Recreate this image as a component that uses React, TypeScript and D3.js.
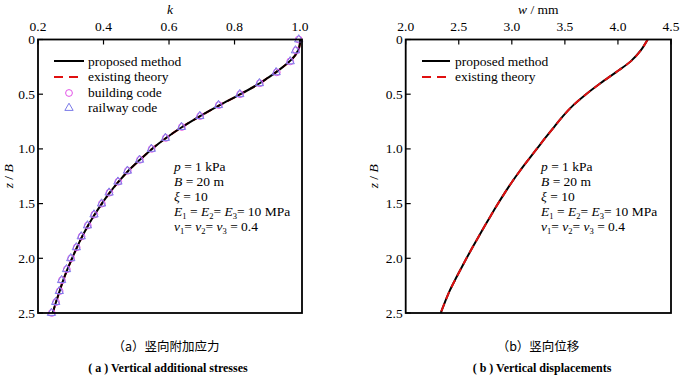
import React from 'react';
import * as d3 from 'd3';

// ---- data ----
const kTicks = [0.2, 0.4, 0.6, 0.8, 1.0];
const wTicks = [2.0, 2.5, 3.0, 3.5, 4.0, 4.5];
const zTicks = [0, 0.5, 1.0, 1.5, 2.0, 2.5];

const zLine = [0, 0.05, 0.1, 0.15, 0.2, 0.25, 0.3, 0.35, 0.4, 0.5, 0.6, 0.7, 0.8, 0.9, 1.0, 1.1, 1.2, 1.3, 1.4, 1.5, 1.6, 1.7, 1.8, 1.9, 2.0, 2.1, 2.2, 2.3, 2.4, 2.5];
const kProposed = [1.0, 0.999, 0.994, 0.984, 0.968, 0.948, 0.926, 0.902, 0.877, 0.818, 0.755, 0.695, 0.640, 0.591, 0.548, 0.511, 0.476, 0.446, 0.419, 0.395, 0.373, 0.353, 0.335, 0.319, 0.304, 0.290, 0.277, 0.266, 0.255, 0.245];
const kExisting = [1.0, 0.999, 0.994, 0.984, 0.968, 0.948, 0.926, 0.902, 0.877, 0.818, 0.755, 0.695, 0.640, 0.591, 0.548, 0.511, 0.476, 0.446, 0.419, 0.395, 0.373, 0.353, 0.335, 0.319, 0.304, 0.290, 0.277, 0.266, 0.255, 0.245];

const zMarkers = [0, 0.1, 0.2, 0.3, 0.4, 0.5, 0.6, 0.7, 0.8, 0.9, 1.0, 1.1, 1.2, 1.3, 1.4, 1.5, 1.6, 1.7, 1.8, 1.9, 2.0, 2.1, 2.2, 2.3, 2.4, 2.5];
const kBuilding = [0.996, 0.988, 0.970, 0.929, 0.877, 0.817, 0.752, 0.695, 0.639, 0.590, 0.547, 0.511, 0.474, 0.445, 0.418, 0.395, 0.372, 0.352, 0.333, 0.318, 0.301, 0.288, 0.273, 0.266, 0.255, 0.242];
const kRailway = [0.996, 0.986, 0.970, 0.927, 0.876, 0.816, 0.751, 0.694, 0.638, 0.589, 0.546, 0.510, 0.473, 0.444, 0.417, 0.394, 0.371, 0.351, 0.332, 0.317, 0.300, 0.287, 0.272, 0.265, 0.254, 0.241];

const zW = [0, 0.1, 0.2, 0.3, 0.4, 0.5, 0.6, 0.7, 0.8, 0.9, 1.0, 1.1, 1.2, 1.3, 1.4, 1.5, 1.6, 1.7, 1.8, 1.9, 2.0, 2.1, 2.2, 2.3, 2.4, 2.5];
const wProposed = [4.28, 4.215, 4.12, 3.98, 3.835, 3.70, 3.58, 3.482, 3.398, 3.315, 3.235, 3.155, 3.077, 3.003, 2.935, 2.87, 2.808, 2.747, 2.688, 2.63, 2.573, 2.518, 2.464, 2.413, 2.37, 2.33];
const wExisting = [4.28, 4.215, 4.12, 3.98, 3.835, 3.70, 3.58, 3.482, 3.398, 3.315, 3.235, 3.155, 3.077, 3.003, 2.935, 2.87, 2.808, 2.747, 2.688, 2.63, 2.573, 2.518, 2.464, 2.413, 2.37, 2.33];

const legendA = ['proposed method', 'existing theory', 'building code', 'railway code'];
const legendB = ['proposed method', 'existing theory'];

const SERIF = "'Liberation Serif', 'Times New Roman', serif";
const CJK = "'Noto Sans CJK SC', sans-serif";

const Params = ({ x, y }: { x: number; y: number }) => {
  const fs = 13.5;
  const sub = { fontSize: 8.5 } as const;
  return (
    <g style={{ fontFamily: SERIF }} fontSize={fs} fill="#000">
      <text x={x} y={y}><tspan fontStyle="italic">p</tspan> = 1 kPa</text>
      <text x={x} y={y + 15}><tspan fontStyle="italic">B</tspan> = 20 m</text>
      <text x={x} y={y + 30}><tspan fontStyle="italic">ξ</tspan> = 10</text>
      <text x={x} y={y + 45}>
        <tspan fontStyle="italic">E</tspan><tspan dy={2.5} style={sub}>1</tspan><tspan dy={-2.5}> = </tspan>
        <tspan fontStyle="italic">E</tspan><tspan dy={2.5} style={sub}>2</tspan><tspan dy={-2.5}>= </tspan>
        <tspan fontStyle="italic">E</tspan><tspan dy={2.5} style={sub}>3</tspan><tspan dy={-2.5}>= 10 MPa</tspan>
      </text>
      <text x={x} y={y + 60}>
        <tspan fontStyle="italic">ν</tspan><tspan dy={2.5} style={sub}>1</tspan><tspan dy={-2.5}>= </tspan>
        <tspan fontStyle="italic">ν</tspan><tspan dy={2.5} style={sub}>2</tspan><tspan dy={-2.5}>= </tspan>
        <tspan fontStyle="italic">ν</tspan><tspan dy={2.5} style={sub}>3</tspan><tspan dy={-2.5}> = 0.4</tspan>
      </text>
    </g>
  );
};

const Panel = ({
  x0, x1, xDomain, xTicks, xTitle, yLabelOffset, children,
}: {
  x0: number; x1: number; xDomain: [number, number]; xTicks: number[]; xTitle: React.ReactNode; yLabelOffset: number; children: (x: d3.ScaleLinear<number, number>, y: d3.ScaleLinear<number, number>) => React.ReactNode;
}) => {
  const y0 = 39.5, y1 = 313;
  const x = d3.scaleLinear().domain(xDomain).range([x0, x1]);
  const y = d3.scaleLinear().domain([0, 2.5]).range([y0, y1]);
  const left = x0;
  const right = x.range()[1];
  return (
    <g style={{ fontFamily: SERIF }}>
      {children(x, y)}
      {xTicks.map((t) => (
        <g key={'xt' + t}>
          <line x1={x(t)} x2={x(t)} y1={y0} y2={y0 + 5} stroke="#000" strokeWidth={1.2} />
          <text x={x(t)} y={31} textAnchor="middle" fontSize={13.5}>{t.toFixed(1)}</text>
        </g>
      ))}
      {zTicks.map((t) => (
        <g key={'yt' + t}>
          <line x1={left} x2={left + 5} y1={y(t)} y2={y(t)} stroke="#000" strokeWidth={1.2} />
          <text x={left - 3} y={y(t) + 4.5} textAnchor="end" fontSize={13.5}>{t === 0 ? '0' : t.toFixed(1)}</text>
        </g>
      ))}
      <rect x={left} y={y0} width={right - left} height={y1 - y0} fill="none" stroke="#000" strokeWidth={1.8} />
      <text x={(left + right) / 2} y={14} textAnchor="middle" fontSize={13.5}>{xTitle}</text>
      <text transform={`translate(${left - yLabelOffset},${(y0 + y1) / 2}) rotate(-90)`} textAnchor="middle" fontSize={13.5}>
        <tspan fontStyle="italic">z</tspan> / <tspan fontStyle="italic">B</tspan>
      </text>
    </g>
  );
};

export default function App() {
  const lineGen = (xs: number[], zs: number[], x: d3.ScaleLinear<number, number>, y: d3.ScaleLinear<number, number>) =>
    d3.line<number>().x((d) => x(d)).y((_, i) => y(zs[i])).curve(d3.curveCatmullRom)(xs) || '';
  const tri = d3.symbol().type(d3.symbolTriangle).size(30)() || '';

  return (
    <svg width={683} height={378} style={{ position: 'absolute', left: 0, top: 0, background: '#fff' }}>
      <rect width={683} height={378} fill="#fff" />
      <Panel x0={38} x1={302} xDomain={[0.2, 1.006]} xTicks={kTicks} xTitle={<tspan fontStyle="italic">k</tspan>} yLabelOffset={25}>
        {(x, y) => (
          <g>
            <path d={lineGen(kExisting, zLine, x, y)} fill="none" stroke="#e01010" strokeWidth={2} strokeDasharray="8,5" />
            <path d={lineGen(kProposed, zLine, x, y)} fill="none" stroke="#000" strokeWidth={2} />
            {zMarkers.map((z, i) => (
              <circle key={'c' + i} cx={x(kBuilding[i])} cy={y(z)} r={3.4} fill="none" stroke="#e454e8" strokeWidth={1} />
            ))}
            {zMarkers.map((z, i) => (
              <path key={'t' + i} d={tri} transform={`translate(${x(kRailway[i])},${y(z)})`} fill="none" stroke="#7a7ae8" strokeWidth={1} />
            ))}
            <g fontSize={13.5}>
              <line x1={54} x2={84} y1={61} y2={61} stroke="#000" strokeWidth={2} />
              <line x1={54} x2={84} y1={77} y2={77} stroke="#e01010" strokeWidth={2} strokeDasharray="9,6" />
              <circle cx={69} cy={93} r={3.4} fill="none" stroke="#e454e8" strokeWidth={1} />
              <path d={tri} transform="translate(69,108)" fill="none" stroke="#7a7ae8" strokeWidth={1} />
              {legendA.map((s, i) => (
                <text key={s} x={88} y={65.5 + i * 15.5}>{s}</text>
              ))}
            </g>
            <Params x={174} y={171} />
          </g>
        )}
      </Panel>
      <Panel x0={405.7} x1={671} xDomain={[2.0, 4.5]} xTicks={wTicks} xTitle={<><tspan fontStyle="italic">w</tspan> / mm</>} yLabelOffset={28}>
        {(x, y) => (
          <g>
            <path d={lineGen(wProposed, zW, x, y)} fill="none" stroke="#000" strokeWidth={2} />
            <path d={lineGen(wExisting, zW, x, y)} fill="none" stroke="#e01010" strokeWidth={2} strokeDasharray="8,5" />
            <g fontSize={13.5}>
              <line x1={422} x2={450} y1={61} y2={61} stroke="#000" strokeWidth={2} />
              <line x1={422} x2={450} y1={77} y2={77} stroke="#e01010" strokeWidth={2} strokeDasharray="9,6" />
              {legendB.map((s, i) => (
                <text key={s} x={455} y={65.5 + i * 15.5}>{s}</text>
              ))}
            </g>
            <Params x={541} y={171} />
          </g>
        )}
      </Panel>
      <g fontSize={12.5} fill="#000">
        <text x={166} y={351} textAnchor="middle" style={{ fontFamily: CJK }}>（a）竖向附加应力</text>
        <text x={538} y={351} textAnchor="middle" style={{ fontFamily: CJK }}>（b）竖向位移</text>
        <text x={168} y={372} textAnchor="middle" style={{ fontFamily: SERIF }} fontWeight="bold" fontSize={12}>( a )  Vertical additional stresses</text>
        <text x={542} y={372} textAnchor="middle" style={{ fontFamily: SERIF }} fontWeight="bold" fontSize={12}>( b )  Vertical displacements</text>
      </g>
    </svg>
  );
}
